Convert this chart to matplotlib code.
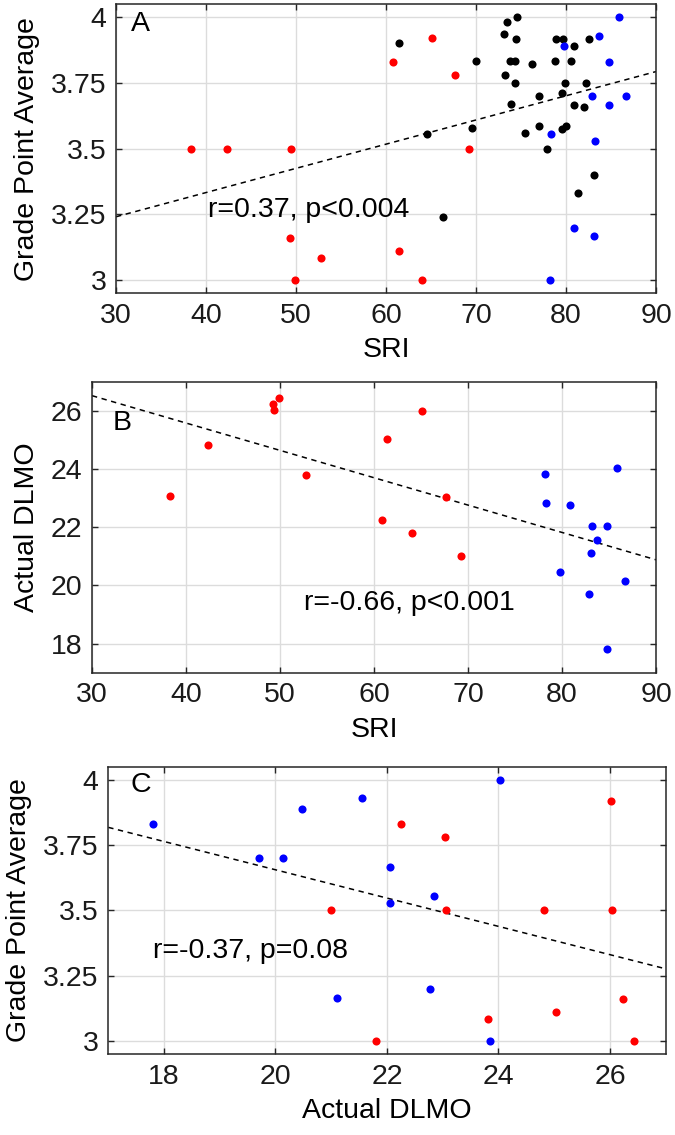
import numpy as np
import matplotlib
matplotlib.use('Agg')
import matplotlib.pyplot as plt

# --- data ---
# red group: SRI, GPA, DLMO
red_sri = [38.3, 42.3, 49.4, 49.3, 49.9, 52.8, 60.8, 61.4, 64.0, 65.1, 67.7, 69.2]
red_gpa = [3.50, 3.50, 3.50, 3.16, 3.00, 3.085, 3.83, 3.11, 3.00, 3.92, 3.78, 3.50]
red_dlmo = [23.06, 24.82, 26.04, 26.24, 26.44, 23.81, 22.25, 25.03, 21.80, 26.01, 23.04, 21.00]

# blue group: SRI, GPA, DLMO
blue_sri = [85.9, 83.7, 79.8, 84.8, 82.9, 86.7, 84.8, 78.3, 83.2, 80.9, 83.1, 78.2]
blue_gpa = [4.00, 3.93, 3.89, 3.83, 3.70, 3.70, 3.667, 3.556, 3.53, 3.20, 3.167, 3.00]
blue_dlmo = [24.02, 21.55, 20.47, 17.80, 19.71, 20.14, 22.05, 22.84, 22.05, 22.78, 21.10, 23.84]

# black group (panel A only): SRI, GPA
black_sri = [61.4, 70.0, 64.6, 69.6, 66.3, 73.4, 74.6, 73.1, 74.4, 73.8, 74.3, 76.2,
             73.2, 74.3, 77.0, 73.9, 78.9, 79.7, 80.9, 78.8, 80.5, 82.5, 79.9, 82.2,
             79.6, 80.9, 82.0, 75.4, 77.0, 79.6, 80.0, 77.9, 83.1, 81.3]
black_gpa = [3.90, 3.834, 3.556, 3.58, 3.24, 3.98, 4.00, 3.934, 3.917, 3.834, 3.834, 3.82,
             3.78, 3.75, 3.70, 3.67, 3.917, 3.917, 3.89, 3.834, 3.834, 3.917, 3.75, 3.75,
             3.71, 3.664, 3.66, 3.56, 3.585, 3.575, 3.585, 3.50, 3.40, 3.33]

# regression lines (end points)
fit_a_x, fit_a_y = [30, 90], [3.241, 3.793]
fit_b_x, fit_b_y = [30, 90], [26.52, 20.88]
fit_c_x, fit_c_y = [17, 27], [3.818, 3.277]

gpa_ticks = [3, 3.25, 3.5, 3.75, 4]
gpa_labels = ['3', '3.25', '3.5', '3.75', '4']
sri_ticks = [30, 40, 50, 60, 70, 80, 90]
dlmo_ticks_b = [18, 20, 22, 24, 26]
dlmo_ticks_c = [18, 20, 22, 24, 26]

plt.rcParams['font.family'] = ['Liberation Sans', 'DejaVu Sans']
plt.rcParams['font.size'] = 20.5

fig = plt.figure(figsize=(6.75, 11.35), dpi=100)
axA = fig.add_axes([0.1719, 0.7416, 0.8, 0.2549])
axB = fig.add_axes([0.1363, 0.4073, 0.8356, 0.2564])
axC = fig.add_axes([0.1604, 0.0711, 0.8258, 0.2534])

ms = 34


def style(ax):
    ax.grid(True, color='#dcdcdc', lw=1.0)
    ax.set_axisbelow(True)
    ax.tick_params(direction='in', top=True, right=True, length=4.5, width=1.0,
                   colors='#262626', labelcolor='#1a1a1a', pad=7)
    for s in ax.spines.values():
        s.set_color('#262626')
        s.set_linewidth(1.1)


# panel A
axA.plot(fit_a_x, fit_a_y, 'k--', lw=1.1, dashes=(3.5, 3))
axA.scatter(black_sri, black_gpa, s=ms, c='k', zorder=3, linewidths=0)
axA.scatter(red_sri, red_gpa, s=ms, c='#ff0000', zorder=3, linewidths=0)
axA.scatter(blue_sri, blue_gpa, s=ms, c='#0000ff', zorder=3, linewidths=0)
axA.set_xlim(30, 90)
axA.set_ylim(2.95, 4.05)
axA.set_xticks(sri_ticks)
axA.set_yticks(gpa_ticks)
axA.set_yticklabels(gpa_labels)
axA.set_xlabel('SRI', labelpad=6)
axA.set_ylabel('Grade Point Average', labelpad=8)
axA.text(0.027, 0.931, 'A', transform=axA.transAxes, va='center', ha='left')
axA.text(40.2, 3.266, 'r=0.37, p<0.004', va='center', ha='left')
style(axA)

# panel B
axB.plot(fit_b_x, fit_b_y, 'k--', lw=1.1, dashes=(3.5, 3))
axB.scatter(red_sri, red_dlmo, s=ms, c='#ff0000', zorder=3, linewidths=0)
axB.scatter(blue_sri, blue_dlmo, s=ms, c='#0000ff', zorder=3, linewidths=0)
axB.set_xlim(30, 90)
axB.set_ylim(17, 27)
axB.set_xticks(sri_ticks)
axB.set_yticks(dlmo_ticks_b)
axB.set_xlabel('SRI', labelpad=6)
axB.set_ylabel('Actual DLMO', labelpad=8)
axB.text(0.037, 0.857, 'B', transform=axB.transAxes, va='center', ha='left')
axB.text(52.6, 19.4, 'r=-0.66, p<0.001', va='center', ha='left')
style(axB)

# panel C
axC.plot(fit_c_x, fit_c_y, 'k--', lw=1.1, dashes=(3.5, 3))
axC.scatter(red_dlmo, red_gpa, s=ms, c='#ff0000', zorder=3, linewidths=0)
axC.scatter(blue_dlmo, blue_gpa, s=ms, c='#0000ff', zorder=3, linewidths=0)
axC.set_xlim(17, 27)
axC.set_ylim(2.95, 4.05)
axC.set_xticks(dlmo_ticks_c)
axC.set_yticks(gpa_ticks)
axC.set_yticklabels(gpa_labels)
axC.set_xlabel('Actual DLMO', labelpad=6)
axC.set_ylabel('Grade Point Average', labelpad=8)
axC.text(0.039, 0.936, 'C', transform=axC.transAxes, va='center', ha='left')
axC.text(17.81, 3.347, 'r=-0.37, p=0.08', va='center', ha='left')
style(axC)

fig.savefig('out.png', dpi=100)
